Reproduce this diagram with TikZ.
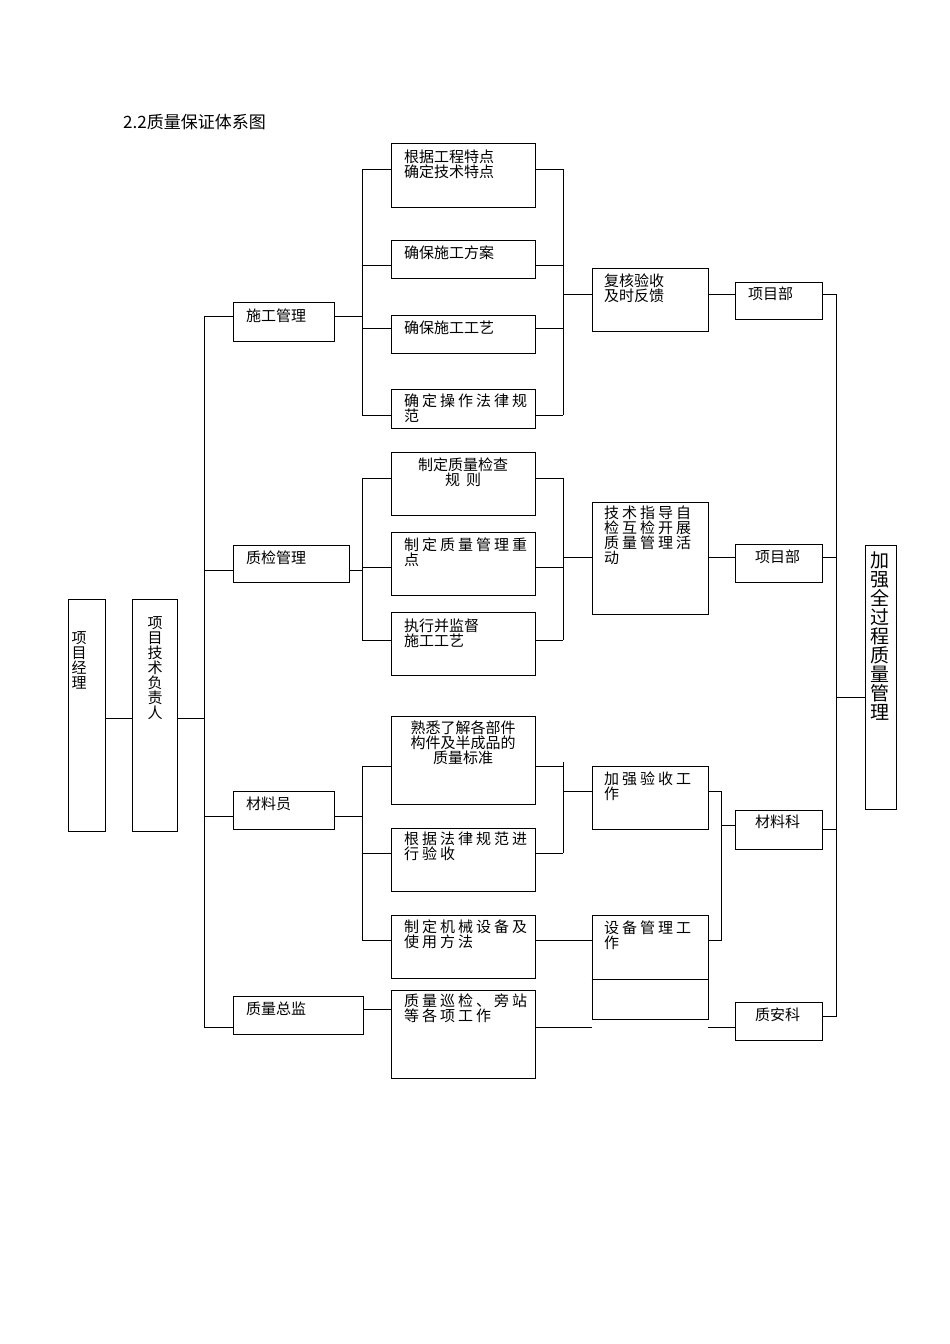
\documentclass[tikz,border=0pt]{standalone}
\usepackage{fontspec}
\newfontfamily\cjk{Noto Sans CJK SC}
\newfontfamily\cjksp[LetterSpace=20]{Noto Sans CJK SC}
\tikzset{
  box/.style={draw, line width=1pt, inner sep=0pt},
  txt/.style={inner sep=0pt, anchor=north west, align=left, font=\cjk\fontsize{15}{15}\selectfont},
  ln/.style={line width=1pt}
}
% \bx{name}{x1}{y1}{x2}{y2}
\newcommand\bx[5]{\node[box, minimum width={(#4-#2)*1pt}, minimum height={(#5-#3)*1pt}] (#1) at ({(#2+#4)/2},{(#3+#5)/2}) {};}
\begin{document}
\begin{tikzpicture}[x=1pt,y=-1pt]
\useasboundingbox (0,0) rectangle (950,1344);
\node[txt, font=\cjk\fontsize{17}{17}\selectfont] (title) at (123,114) {2.2质量保证体系图};
% left column
\bx{pm}{68}{599}{105}{831}
\node[txt, anchor=north, align=center] (pmt) at (79,631) {项\\目\\经\\理};
\bx{tl}{132}{599}{177}{831}
\node[txt, anchor=north, align=center] (tlt) at (155,616) {项\\目\\技\\术\\负\\责\\人};
\draw[ln] (pm.east |- 0,718) -- (tl.west |- 0,718);
\coordinate (b1t) at (204,316); \coordinate (b1b) at (204,1027);
\draw[ln] (tl.east |- 0,718) -- (204,718);
\draw[ln] (b1t) -- (b1b);
% level 2
\bx{sg}{233}{302}{334}{341} \node[txt] (sgt) at (246,309) {施工管理};
\bx{zj}{233}{545}{349}{582} \node[txt] (zjt) at (246,551) {质检管理};
\bx{cl}{233}{791}{334}{829} \node[txt] (clt) at (246,797) {材料员};
\bx{zl}{233}{996}{363}{1034} \node[txt] (zlt) at (246,1002) {质量总监};
\draw[ln] (b1t) -- (sg.west |- b1t);
\draw[ln] (204,570) -- (zj.west |- 0,570);
\draw[ln] (204,816) -- (cl.west |- 0,816);
\draw[ln] (b1b) -- (zl.west |- b1b);
% group 1
\bx{a1}{391}{143}{535}{207} \node[txt] (a1t) at (404,150) {根据工程特点\\确定技术特点};
\bx{a2}{391}{240}{535}{278} \node[txt] (a2t) at (404,246) {确保施工方案};
\bx{a3}{391}{315}{535}{353} \node[txt] (a3t) at (404,321) {确保施工工艺};
\bx{a4}{391}{389}{535}{428} \node[txt, font=\cjksp\fontsize{15}{15}\selectfont] (a4t) at (404,394) {确定操作法律规\\范};
\draw[ln] (362,169) -- (362,415);
\draw[ln] (sg.east |- 0,316) -- (362,316);
\foreach \n/\y in {a1/169,a2/265,a3/328,a4/415}{
  \draw[ln] (362,\y) -- (\n.west |- 0,\y);
  \draw[ln] (\n.east |- 0,\y) -- (563,\y);}
\draw[ln] (563,169) -- (563,415);
\bx{fh}{592}{268}{708}{331} \node[txt] (fht) at (604,274) {复核验收\\及时反馈};
\draw[ln] (563,294) -- (fh.west |- 0,294);
\bx{xm1}{735}{282}{822}{319} \node[txt] (xm1t) at (748,287) {项目部};
\draw[ln] (fh.east |- 0,294) -- (xm1.west |- 0,294);
% group 2
\bx{b1}{391}{452}{535}{515} \node[txt, anchor=north, align=center] (b1x) at (463,458) {制定质量检查\\规\hspace{6pt}则};
\bx{b2}{391}{532}{535}{595} \node[txt, font=\cjksp\fontsize{15}{15}\selectfont] (b2t) at (404,538) {制定质量管理重\\点};
\bx{b3}{391}{612}{535}{675} \node[txt] (b3t) at (404,619) {执行并监督\\施工工艺};
\draw[ln] (362,478) -- (362,640);
\draw[ln] (zj.east |- 0,570) -- (362,570);
\foreach \n/\y in {b1/478,b2/567,b3/640}{
  \draw[ln] (362,\y) -- (\n.west |- 0,\y);
  \draw[ln] (\n.east |- 0,\y) -- (563,\y);}
\draw[ln] (563,478) -- (563,640);
\bx{js}{592}{502}{708}{614} \node[txt, font=\cjksp\fontsize{15}{15}\selectfont] (jst) at (604,506) {技术指导自\\检互检开展\\质量管理活\\动};
\draw[ln] (563,557) -- (js.west |- 0,557);
\bx{xm2}{735}{544}{822}{582} \node[txt] (xm2t) at (755,550) {项目部};
\draw[ln] (js.east |- 0,557) -- (xm2.west |- 0,557);
% group 3
\bx{c1}{391}{716}{535}{804} \node[txt, anchor=north, align=center] (c1t) at (463,721) {熟悉了解各部件\\构件及半成品的\\质量标准};
\bx{c2}{391}{828}{535}{891} \node[txt, font=\cjksp\fontsize{15}{15}\selectfont] (c2t) at (404,832) {根据法律规范进\\行验收};
\bx{c3}{391}{915}{535}{978} \node[txt, font=\cjksp\fontsize{15}{15}\selectfont] (c3t) at (404,920) {制定机械设备及\\使用方法};
\draw[ln] (362,766) -- (362,940);
\draw[ln] (cl.east |- 0,816) -- (362,816);
\foreach \n/\y in {c1/766,c2/853,c3/940}{\draw[ln] (362,\y) -- (\n.west |- 0,\y);}
\draw[ln] (c1.east |- 0,766) -- (563,766);
\draw[ln] (c2.east |- 0,853) -- (563,853);
\draw[ln] (563,762) -- (563,853);
\bx{jq}{592}{766}{708}{829} \node[txt, font=\cjksp\fontsize{15}{15}\selectfont] (jqt) at (604,772) {加强验收工\\作};
\draw[ln] (563,791) -- (jq.west |- 0,791);
\bx{sb}{592}{915}{708}{1019} \node[txt, font=\cjksp\fontsize{15}{15}\selectfont] (sbt) at (604,921) {设备管理工\\作};
\draw[ln] (sb.west |- 0,979) -- (sb.east |- 0,979);
\draw[ln] (c3.east |- 0,940) -- (sb.west |- 0,940);
\draw[ln] (jq.east |- 0,791) -- (721,791) -- (721,940) -- (sb.east |- 0,940);
\bx{clk}{735}{810}{822}{849} \node[txt] (clkt) at (755,815) {材料科};
\draw[ln] (721,825) -- (clk.west |- 0,825);
% group 4
\bx{d1}{391}{990}{535}{1078} \node[txt, font=\cjksp\fontsize{15}{15}\selectfont] (d1t) at (404,994) {质量巡检、旁站\\等各项工作};
\draw[ln] (zl.east |- 0,1009) -- (d1.west |- 0,1009);
\draw[ln] (d1.east |- 0,1027) -- (592,1027);
\bx{zak}{735}{1002}{822}{1040} \node[txt] (zakt) at (755,1008) {质安科};
\draw[ln] (708,1027) -- (zak.west |- 0,1027);
% right bus
\draw[ln] (xm1.east |- 0,294) -- (836,294) -- (836,1016) -- (zak.east |- 0,1016);
\draw[ln] (xm2.east |- 0,557) -- (836,557);
\draw[ln] (clk.east |- 0,829) -- (836,829);
\bx{jqq}{865}{545}{896}{809}
\node[txt, anchor=north, align=center, font=\cjk\fontsize{19}{19}\selectfont] (jqqt) at (880,552) {加\\强\\全\\过\\程\\质\\量\\管\\理};
\draw[ln] (836,697) -- (jqq.west |- 0,697);
\end{tikzpicture}
\end{document}
